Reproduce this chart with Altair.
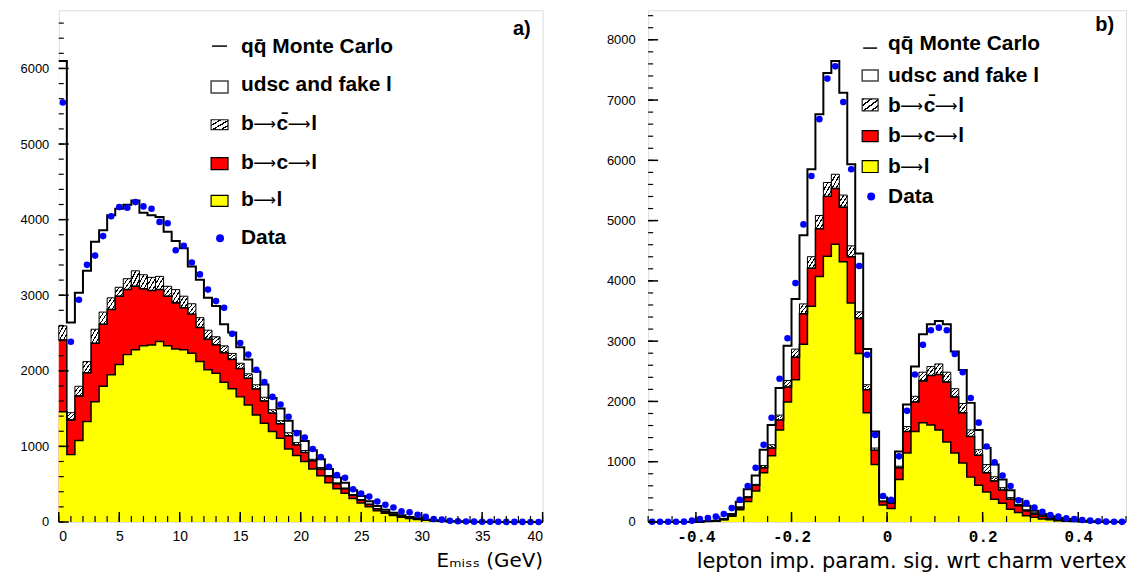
import altair as alt
import pandas as pd

# ---------------- data ----------------
# Panel a): E_miss, 60 bins of 2/3 GeV between 0 and 40 GeV (cumulative stack tops)
a_lo, a_hi, a_ymax = 0.0, 40.0, 6770
a_yellow = [1458, 891, 1079, 1328, 1590, 1795, 1948, 2083, 2214, 2280, 2332, 2341, 2389, 2332, 2288,
            2280, 2231, 2122, 2013, 1969, 1850, 1764, 1655, 1546, 1415, 1306, 1196, 1109, 965, 880,
            800, 700, 610, 520, 440, 380, 310, 250, 200, 150, 115, 85, 62, 45, 32,
            22, 15, 10, 7, 5, 3, 2, 1, 1, 0, 0, 0, 0, 0, 0]
a_red = [2406, 1349, 1668, 1974, 2363, 2616, 2812, 2987, 3074, 3118, 3087, 3061, 3074, 2987, 2900,
         2834, 2747, 2572, 2419, 2345, 2240, 2150, 2030, 1900, 1760, 1600, 1440, 1300, 1140, 1020,
         920, 810, 700, 600, 505, 440, 355, 290, 232, 175, 134, 100, 73, 52, 38,
         26, 18, 12, 8, 6, 4, 3, 2, 1, 1, 0, 0, 0, 0, 0]
a_hatch = [2594, 1446, 1795, 2122, 2550, 2777, 2965, 3105, 3218, 3323, 3271, 3236, 3249, 3118, 3074,
           2987, 2887, 2703, 2537, 2450, 2330, 2230, 2100, 1960, 1815, 1650, 1485, 1340, 1180, 1050,
           945, 830, 720, 615, 518, 450, 363, 297, 237, 179, 137, 102, 75, 54, 39,
           27, 19, 13, 9, 6, 4, 3, 2, 1, 1, 0, 0, 0, 0, 0]
a_total = [6100, 2638, 3031, 3323, 3708, 3860, 4057, 4144, 4197, 4253, 4092, 4057, 4035, 3839, 3716,
           3620, 3380, 3205, 2965, 2856, 2616, 2507, 2310, 2150, 1990, 1820, 1640, 1500, 1340, 1200,
           1070, 950, 830, 700, 590, 520, 420, 345, 275, 210, 162, 122, 90, 66, 48,
           34, 24, 16, 11, 8, 5, 4, 3, 2, 1, 1, 0, 0, 0, 0]
a_data = [5550, 2384, 2939, 3402, 3524, 3782, 4044, 4166, 4157, 4232, 4175, 4144, 3970, 3952, 3594,
          3655, 3432, 3275, 3074, 2922, 2834, 2489, 2367, 2214, 2013, 1852, 1655, 1555, 1393, 1175,
          1118, 965, 860, 729, 620, 585, 432, 376, 336, 271, 227, 192, 140, 127, 96,
          70, 39, 31, 17, 9, 6, 4, 3, 2, 2, 1, 1, 1, 0, 0]
a_xlabels = [0, 5, 10, 15, 20, 25, 30, 35, 40]
a_xminor = list(range(0, 41))
a_ylabels = [0, 1000, 2000, 3000, 4000, 5000, 6000]
a_yminor = list(range(0, 6601, 200))

# Panel b): lepton impact parameter significance, 60 bins between -0.5 and 0.5
b_lo, b_hi, b_ymax = -0.5, 0.5, 8490
b_yellow = [0, 0, 0, 0, 0, 0, 4, 10, 15, 38, 93, 203, 339, 515, 816, 1100, 1527, 1992, 2359, 2950,
            3580, 4072, 4409, 4606, 4319, 3634, 2797, 1812, 952, 280, 224, 706, 1144, 1500, 1648,
            1609, 1527, 1325, 1144, 980, 744, 608, 498, 378, 312, 213, 159, 104, 77, 49,
            38, 22, 12, 6, 3, 2, 1, 0, 0, 0]
b_red = [0, 0, 0, 0, 0, 0, 5, 11, 17, 40, 104, 230, 405, 608, 898, 1226, 1691, 2238, 2731, 3453,
         4209, 4866, 5402, 5534, 5222, 4401, 3377, 2195, 1188, 340, 312, 898, 1500, 1992, 2337,
         2430, 2446, 2321, 2074, 1812, 1418, 1106, 816, 679, 531, 378, 268, 186, 131, 93,
         60, 38, 22, 12, 6, 3, 1, 0, 0, 0]
b_hatch = [0, 0, 0, 0, 0, 0, 5, 12, 18, 43, 115, 252, 421, 624, 936, 1281, 1773, 2348, 2868, 3618,
           4401, 5085, 5632, 5769, 5424, 4581, 3486, 2277, 1226, 348, 323, 925, 1582, 2085, 2485,
           2578, 2622, 2485, 2211, 1965, 1527, 1199, 952, 750, 569, 405, 290, 203, 153, 104,
           71, 49, 33, 22, 11, 5, 2, 1, 0, 0]
b_total = [0, 0, 0, 0, 0, 0, 5, 12, 22, 49, 131, 334, 542, 772, 1199, 1609, 2222, 2923, 3700, 4756,
           5851, 6765, 7449, 7646, 7121, 5933, 4455, 2868, 1500, 405, 350, 1171, 1949, 2578, 3114,
           3279, 3333, 3279, 2830, 2523, 1976, 1527, 1226, 952, 706, 525, 378, 268, 186, 131,
           93, 66, 49, 33, 22, 11, 5, 3, 2, 1]
b_data = [3, 3, 3, 3, 5, 22, 49, 66, 88, 131, 230, 367, 597, 898, 1281, 1730, 2376, 3049, 3963, 4937,
          5741, 6683, 7356, 7559, 6968, 5851, 4247, 2775, 1445, 432, 367, 1089, 1844, 2447, 2939,
          3180, 3224, 3180, 2786, 2485, 2058, 1648, 1253, 991, 772, 597, 361, 312, 241, 170,
          115, 88, 60, 49, 33, 22, 11, 5, 3, 2]
b_xlabels = [-0.4, -0.2, 0, 0.2, 0.4]
b_xminor = [round(-0.5 + 0.05 * i, 2) for i in range(21)]
b_ylabels = [0, 1000, 2000, 3000, 4000, 5000, 6000, 7000, 8000]
b_yminor = list(range(0, 8401, 200))

ARROW = "\u27f6"
# legend entries; decay chains are split into pieces so that the arrows come out long and thin
legend_rows = [["q\u0071\u0304 Monte Carlo"], ["udsc and fake l"],
               ["b", ARROW, "c\u0304", ARROW, "l"], ["b", ARROW, "c", ARROW, "l"],
               ["b", ARROW, "l"], ["Data"]]
piece_width = {"b": 12.8, "c": 11.7, "c\u0304": 11.7, "l": 5.8, ARROW: 23.0}

H = 514
YELLOW = "#ffff00"
RED = "#ff0000"
BLUE = "#0000ff"
LEG_FONT = "Liberation Sans"


def hatch_gradient(n=4):
    stops = []
    for i in range(n):
        a = i / n
        b = (i + 0.3) / n
        c = (i + 1) / n
        stops += [alt.GradientStop(offset=a, color="#000000"),
                  alt.GradientStop(offset=b, color="#000000"),
                  alt.GradientStop(offset=b, color="#ffffff"),
                  alt.GradientStop(offset=c, color="#ffffff")]
    return alt.LinearGradient(gradient="linear", stops=stops, x1=0, y1=0, x2=1, y2=1)


def panel(lo, hi, ymax, W, yellow, red, hatch, total, data,
          xaxis, yaxis, xmaj, xmin, ymaj, ymin, leg, label, label_pos):
    n = len(total)
    w = (hi - lo) / n
    edges = [lo + i * w for i in range(n + 1)]
    step = pd.DataFrame({"x": edges,
                         "yl": yellow + [yellow[-1]], "rd": red + [red[-1]],
                         "hb": hatch + [hatch[-1]], "tot": total + [total[-1]]})
    bins = pd.DataFrame({"x0": edges[:-1], "x1": edges[1:],
                         "xc": [e + w / 2 for e in edges[:-1]],
                         "rd": red, "hb": hatch, "data": data})
    xs = alt.Scale(domain=[lo, hi], nice=False, zero=False)
    ys = alt.Scale(domain=[0, ymax], nice=False)

    def X(f):
        return alt.X(f, type="quantitative", scale=xs, axis=xaxis)

    def Y(f):
        return alt.Y(f, type="quantitative", scale=ys, axis=yaxis)

    sc = alt.Chart(step)
    layers = [
        sc.mark_area(interpolate="step-after", color="white").encode(x=X("x"), y=Y("tot")),
        sc.mark_area(interpolate="step-after", color=RED).encode(x=X("x"), y=Y("rd")),
        sc.mark_area(interpolate="step-after", color=YELLOW).encode(x=X("x"), y=Y("yl")),
        alt.Chart(bins).mark_rect(fill=hatch_gradient(), stroke="black", strokeWidth=1).encode(
            x=X("x0"), x2="x1", y=Y("rd"), y2="hb"),
        sc.mark_line(interpolate="step-after", color="black", strokeWidth=1.5).encode(x=X("x"), y=Y("yl")),
        sc.mark_line(interpolate="step-after", color="black", strokeWidth=1.5).encode(x=X("x"), y=Y("rd")),
        sc.mark_line(interpolate="step-after", color="black", strokeWidth=2).encode(x=X("x"), y=Y("tot")),
        alt.Chart(bins).mark_circle(size=44, color=BLUE, opacity=1).encode(x=X("xc"), y=Y("data")),
    ]
    # inward ticks
    tk = lambda vals: alt.Chart(pd.DataFrame({"v": vals}))
    layers += [
        tk(ymaj).mark_rule(color="black", strokeWidth=1.5).encode(y=Y("v"), x=alt.value(0), x2=alt.value(10)),
        tk(ymin).mark_rule(color="black", strokeWidth=1.2).encode(y=Y("v"), x=alt.value(0), x2=alt.value(5)),
        tk(xmaj).mark_rule(color="black", strokeWidth=1.5).encode(x=X("v"), y=alt.value(H), y2=alt.value(H - 10)),
        tk(xmin).mark_rule(color="black", strokeWidth=1.2).encode(x=X("v"), y=alt.value(H), y2=alt.value(H - 6)),
    ]
    # legend
    one = alt.Chart(pd.DataFrame({"a": [0]}))
    bx0, bx1, tx = leg["bx0"], leg["bx1"], leg["tx"]
    base_y = leg["base"]
    boxes = leg["boxes"]
    layers.append(one.mark_rule(color="black", strokeWidth=1.5).encode(
        x=alt.value(bx0 + 1), x2=alt.value(bx1 - 1), y=alt.value(leg["line_y"])))
    layers.append(one.mark_rect(fill="white", stroke="#444444", strokeWidth=1.5).encode(
        x=alt.value(bx0), x2=alt.value(bx1), y=alt.value(boxes[0][0]), y2=alt.value(boxes[0][1])))
    layers.append(one.mark_rect(fill=hatch_gradient(4), stroke="#222222", strokeWidth=1.2).encode(
        x=alt.value(bx0), x2=alt.value(bx1), y=alt.value(boxes[1][0]), y2=alt.value(boxes[1][1])))
    layers.append(one.mark_rect(fill=RED, stroke="black", strokeWidth=1.2).encode(
        x=alt.value(bx0), x2=alt.value(bx1), y=alt.value(boxes[2][0]), y2=alt.value(boxes[2][1])))
    layers.append(one.mark_rect(fill=YELLOW, stroke="black", strokeWidth=1.2).encode(
        x=alt.value(bx0), x2=alt.value(bx1), y=alt.value(boxes[3][0]), y2=alt.value(boxes[3][1])))
    layers.append(one.mark_circle(size=64, color=BLUE, opacity=1).encode(
        x=alt.value(leg["dot"][0]), y=alt.value(leg["dot"][1])))
    for pieces, by in zip(legend_rows, base_y):
        px = tx
        for p in pieces:
            if p == ARROW:
                layers.append(one.mark_text(text=p, font="DejaVu Sans", fontSize=16,
                                            align="left", baseline="alphabetic", color="black").encode(
                    x=alt.value(px - 0.5), y=alt.value(by - 1)))
            else:
                layers.append(one.mark_text(text=p, font=LEG_FONT, fontSize=21, fontWeight="bold",
                                            align="left", baseline="alphabetic", color="black").encode(
                    x=alt.value(px), y=alt.value(by)))
            px += piece_width.get(p, 0)
    layers.append(one.mark_text(text=label, font=LEG_FONT, fontSize=20, fontWeight="bold",
                                align="right", baseline="alphabetic", color="black").encode(
        x=alt.value(label_pos[0]), y=alt.value(label_pos[1])))
    return alt.layer(*layers).properties(width=W, height=H)


TITLE_FONT = "DejaVu Sans"

a_xaxis = alt.Axis(values=a_xlabels, ticks=False, domain=False, grid=False,
                   labelFont="Liberation Sans", labelFontSize=14, labelColor="black", labelPadding=8,
                   format="d",
                   title="E\u2098\u1d62\u209b\u209b (GeV)", titleFont=TITLE_FONT, titleFontSize=20,
                   titleFontWeight="normal", titleColor="black", titleAnchor="end", titlePadding=7)
a_yaxis = alt.Axis(values=a_ylabels, ticks=False, domain=False, grid=False,
                   labelFont="Liberation Sans", labelFontSize=13, labelColor="black", labelPadding=10,
                   format="d", title=None)
b_xaxis = alt.Axis(values=b_xlabels, ticks=False, domain=False, grid=False,
                   labelFont="Liberation Mono", labelFontSize=16, labelFontWeight="bold",
                   labelColor="black", labelPadding=7,
                   labelExpr="replace(format(datum.value, '.1~f'), '\u2212', '-')",
                   title="lepton imp. param. sig. wrt charm vertex", titleFont=TITLE_FONT,
                   titleFontSize=21, titleFontWeight="normal", titleColor="black",
                   titleAnchor="end", titlePadding=6)
b_yaxis = alt.Axis(values=b_ylabels, ticks=False, domain=False, grid=False,
                   labelFont="Liberation Sans", labelFontSize=13, labelColor="black", labelPadding=13,
                   format="d", title=None)

a_leg = {"bx0": 153, "bx1": 170, "tx": 183, "line_y": 36,
         "base": [43, 81, 120, 159, 197, 235],
         "boxes": [(71, 83), (110, 120), (148, 160), (186, 197)],
         "dot": (162, 229)}
b_leg = {"bx0": 215, "bx1": 231, "tx": 241, "line_y": 38,
         "base": [40, 72, 102, 132, 163, 194],
         "boxes": [(60, 71), (89, 101), (121, 132), (151, 163)],
         "dot": (224, 187)}

left = panel(a_lo, a_hi, a_ymax, 486, a_yellow, a_red, a_hatch, a_total, a_data,
             a_xaxis, a_yaxis, a_xlabels, a_xminor, a_ylabels, a_yminor, a_leg, "a)", (474, 25))
right = panel(b_lo, b_hi, b_ymax, 480, b_yellow, b_red, b_hatch, b_total, b_data,
              b_xaxis, b_yaxis, b_xlabels, b_xminor, b_ylabels, b_yminor, b_leg, "b)", (468, 21))

chart = alt.hconcat(left, right, spacing=106, bounds="flush").properties(
    padding={"left": 11, "top": 0, "right": 0, "bottom": 0}
).configure_view(stroke="black", strokeWidth=1.5).configure(background="white")

chart.save("out.html", embed_options={"renderer": "svg", "actions": False})
